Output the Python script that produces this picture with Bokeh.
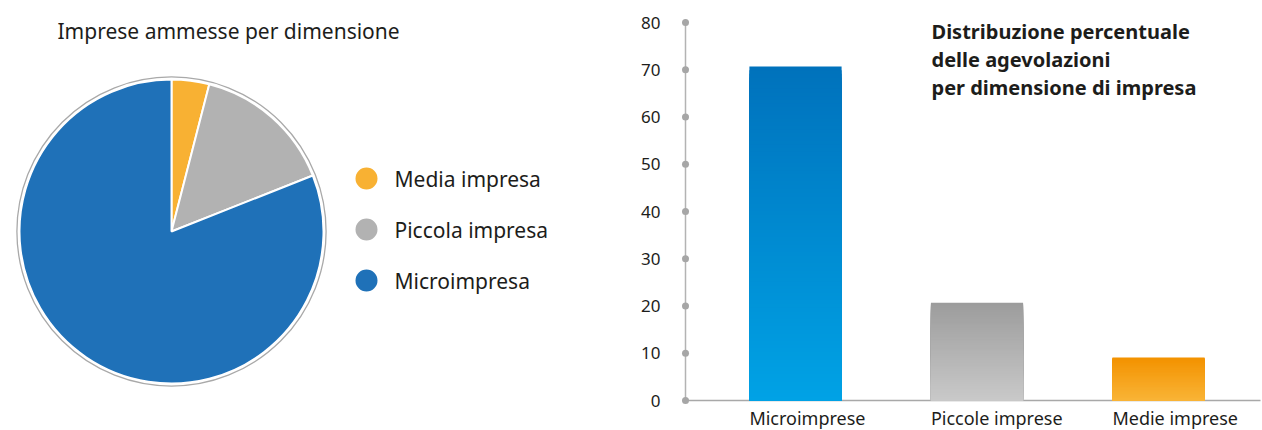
import math

from bokeh.core.properties import value
from bokeh.embed import file_html
from bokeh.layouts import row
from bokeh.models import ColumnDataSource, Range1d
from bokeh.plotting import figure
from bokeh.resources import INLINE

# --- data -------------------------------------------------------------
pie_labels = ["Media impresa", "Piccola impresa", "Microimpresa"]
pie_shares = [4.0, 15.0, 81.0]
pie_colors = ["#f8b133", "#b2b2b2", "#1f71b8"]

bar_categories = ["Microimprese", "Piccole imprese", "Medie imprese"]
bar_values = [70.7, 20.7, 9.1]
bar_top_colors = ["#0072bc", "#9c9c9c", "#f39200"]
bar_bottom_colors = ["#00a2e5", "#c9c9c9", "#f9b437"]

y_ticks = [0, 10, 20, 30, 40, 50, 60, 70, 80]

FONT = "Noto Sans"
TEXT_COLOR = "#1d1d1b"
W, H = 1262, 430


def hex_to_rgb(h):
    h = h.lstrip("#")
    return tuple(int(h[i:i + 2], 16) for i in (0, 2, 4))


def mix(c1, c2, t):
    a, b = hex_to_rgb(c1), hex_to_rgb(c2)
    return "#%02x%02x%02x" % tuple(round(a[i] + (b[i] - a[i]) * t) for i in range(3))


def bare_figure(width, x_range, y_range):
    f = figure(width=width, height=H, x_range=x_range, y_range=y_range,
               x_axis_type=None, y_axis_type=None, toolbar_location=None,
               output_backend="svg", min_border=0, outline_line_color=None)
    f.grid.visible = False
    return f


# --- left panel: pie of admitted firms ------------------------------
PIE_W = 600
pie = bare_figure(PIE_W, Range1d(0, PIE_W), Range1d(0, H))

cx, cy, r = 171, H - 231, 152

total = sum(pie_shares)
starts, ends, acc = [], [], 0.0
for s in pie_shares:
    starts.append(math.pi / 2 - 2 * math.pi * acc / total)
    acc += s
    ends.append(math.pi / 2 - 2 * math.pi * acc / total)

pie_src = ColumnDataSource(dict(label=pie_labels, start=starts, end=ends, color=pie_colors))
pie.wedge(x=cx, y=cy, radius=r, start_angle="start", end_angle="end", direction="clock",
          fill_color="color", line_color="white", line_width=2, source=pie_src)
pie.circle(x=cx, y=cy, radius=r + 2.6, fill_color=None, line_color="#a9a9a9", line_width=1.3)

pie.text(x=[57], y=[H - 30], text=["Imprese ammesse per dimensione"],
         text_font=value(FONT), text_font_size="21px", text_color=TEXT_COLOR,
         text_baseline="middle", text_align="left")

leg_y = [H - 178, H - 229, H - 280]
pie.scatter(x=[366] * 3, y=leg_y, size=22, marker="circle", fill_color=pie_colors, line_color=None)
pie.text(x=[394] * 3, y=leg_y, text=pie_labels, text_font=value(FONT), text_font_size="21px",
         text_color=TEXT_COLOR, text_baseline="middle", text_align="left")

# --- right panel: bar chart of benefit distribution -------------------
BAR_W = W - PIE_W
px_per_cat = 181.5      # horizontal distance between category centres
px_per_unit = 4.725     # vertical pixels per percentage point
first_center, baseline = 795 - PIE_W, 400

x_start = -first_center / px_per_cat
x_end = x_start + BAR_W / px_per_cat
y_start = -(H - baseline) / px_per_unit
y_end = baseline / px_per_unit

bar = bare_figure(BAR_W, Range1d(x_start, x_end), Range1d(y_start, y_end))

# axis: vertical line with dots at each tick, horizontal baseline
axis_x = x_start + (685 - PIE_W) / px_per_cat
bar.segment(x0=[axis_x], y0=[0], x1=[axis_x], y1=[y_ticks[-1]], line_color="#b3b3b3", line_width=1.5)
bar.segment(x0=[axis_x], y0=[0], x1=[x_end - 2 / px_per_cat], y1=[0], line_color="#a8a8a8", line_width=1.5)
bar.scatter(x=[axis_x] * len(y_ticks), y=y_ticks, size=7, marker="circle",
            fill_color="#a6a6a6", line_color=None)

half = 0.254  # half bar width in category units

# tick labels
bar.text(x=[axis_x - 25 / px_per_cat] * len(y_ticks), y=y_ticks, text=[str(t) for t in y_ticks],
         text_font=value(FONT), text_font_size="17px", text_color=TEXT_COLOR,
         text_baseline="middle", text_align="right")
bar.text(x=[i - half for i in range(len(bar_categories))], y=[-17 / px_per_unit] * len(bar_categories),
         text=bar_categories, text_font=value(FONT), text_font_size="18px",
         text_color=TEXT_COLOR, text_baseline="middle", text_align="left")

# bars with a vertical colour gradient: stacked quads painted tallest first
N = 90
lefts, rights, tops, colors = [], [], [], []
for i, v in enumerate(bar_values):
    for k in range(N, 0, -1):
        lefts.append(i - half)
        rights.append(i + half)
        tops.append(v * k / N)
        colors.append(mix(bar_bottom_colors[i], bar_top_colors[i], (k - 1) / (N - 1)))
bar.quad(left=lefts, right=rights, bottom=[0] * len(tops), top=tops, fill_color=colors,
         line_color=None)

title_lines = ["Distribuzione percentuale", "delle agevolazioni", "per dimensione di impresa"]
title_px = [31, 59, 87]
bar.text(x=[x_start + (931 - PIE_W) / px_per_cat] * 3,
         y=[(baseline - py) / px_per_unit for py in title_px],
         text=title_lines, text_font=value(FONT), text_font_size="20px", text_font_style="bold",
         text_color=TEXT_COLOR, text_baseline="middle", text_align="left")

layout = row(pie, bar)
open("out.html", "w").write(file_html(layout, INLINE))
